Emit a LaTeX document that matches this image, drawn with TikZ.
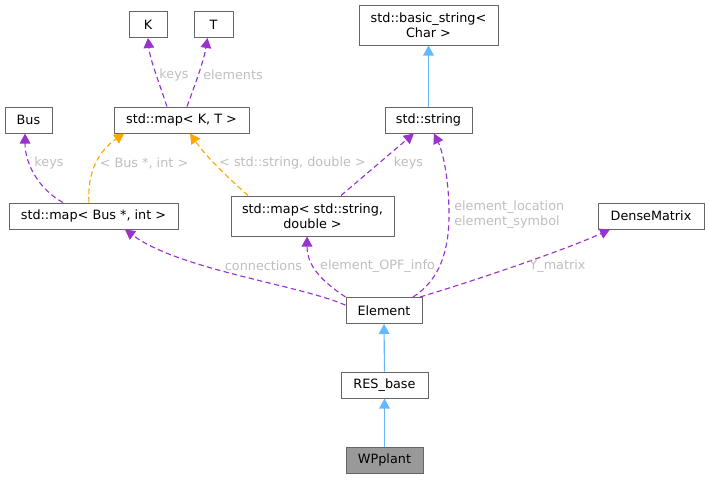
\documentclass[tikz,border=0pt]{standalone}
\usepackage{fontspec}
\setmainfont{DejaVu Sans}
\usetikzlibrary{arrows.meta}
\definecolor{edgepurple}{RGB}{154,50,205}
\definecolor{edgeorange}{RGB}{255,165,0}
\definecolor{edgeblue}{RGB}{99,184,255}
\definecolor{boxgray}{RGB}{102,102,102}
\definecolor{labelgray}{RGB}{190,190,190}
\definecolor{wpgray}{RGB}{153,153,153}

\begin{document}
\begin{tikzpicture}[x=0.75pt, y=-0.75pt, >={Triangle[length=7.5pt,width=8pt]},
    cls/.style={draw=boxgray, line width=0.75pt, fill=white, inner sep=0pt, minimum height=19.5pt,
        font=\fontsize{9.6}{11.25}\selectfont, align=center},
    member/.style={->, edgepurple, line width=0.85pt, dash pattern=on 4pt off 2.5pt},
    tmpl/.style={->, edgeorange, line width=0.85pt, dash pattern=on 4pt off 2.5pt},
    inherit/.style={->, edgeblue, line width=0.85pt},
    lbl/.style={text=labelgray, inner sep=0pt, font=\fontsize{9.6}{11.25}\selectfont}]
    \useasboundingbox (0,0) rectangle (709,479);
    \node[cls, minimum width=28.5pt] (K) at (148,24.5) {K};
    \node[cls, minimum width=29.25pt] (T) at (213.5,24.5) {T};
    \node[cls, minimum width=104.25pt, minimum height=30pt] (basicstr) at (428.5,25) {std::basic\_string<\\Char >};
    \node[cls, minimum width=35.25pt] (Bus) at (28.5,120) {Bus};
    \node[cls, minimum width=101.25pt] (mapKT) at (181.5,120) {std::map< K, T >};
    \node[cls, minimum width=65.25pt] (str) at (428.5,120) {std::string};
    \node[cls, minimum width=126.75pt] (mapBI) at (93.5,216) {std::map< Bus *, int >};
    \node[cls, minimum width=122.25pt, minimum height=30pt] (mapSD) at (312.5,216) {std::map< std::string,\\double >};
    \node[cls, minimum width=79.5pt] (dense) at (651,216) {DenseMatrix};
    \node[cls, minimum width=57pt] (elem) at (384,310.5) {Element};
    \node[cls, minimum width=65.25pt] (resbase) at (384.5,385) {RES\_base};
    \node[cls, minimum width=57.75pt, fill=wpgray] (wp) at (384.5,460) {WPplant};

    \draw[member] ([xshift=-10.9pt]mapKT.north) .. controls (160,85) and (150,60) .. (K.south);
    \draw[member] ([xshift=4.1pt]mapKT.north) .. controls (195,85) and (204,60) .. ([xshift=-4.5pt]T.south);
    \draw[member] ([xshift=-22.9pt]mapBI.north) .. controls (40,190) and (25,165) .. ([xshift=-2.6pt]Bus.south);
    \draw[tmpl] ([xshift=-3.4pt]mapBI.north) .. controls (87,170) and (100,150) .. ([xshift=-43pt]mapKT.south);
    \draw[tmpl] ([xshift=-48.4pt]mapSD.north) .. controls (225,175) and (205,155) .. ([xshift=6.4pt]mapKT.south);
    \draw[member] ([xshift=21.4pt]mapSD.north) -- ([xshift=-11pt]str.south);
    \draw[inherit] (str.north) -- (basicstr.south);
    \draw[member] ([yshift=4pt]elem.west) .. controls (300,285) and (180,270) .. ([xshift=23.6pt]mapBI.south);
    \draw[member] (elem.north west) .. controls (320,280) and (307,265) .. ([xshift=-4.1pt]mapSD.south);
    \draw[member] ([xshift=21.75pt]elem.north) .. controls (440,280) and (449,250) .. (449,215)
        .. controls (449,175) and (442,150) .. ([xshift=4.1pt]str.south);
    \draw[member] ([xshift=27pt]elem.north) .. controls (470,282) and (560,252) .. ([xshift=-30.75pt]dense.south);
    \draw[inherit] (resbase.north) -- (elem.south);
    \draw[inherit] (wp.north) -- (resbase.south);

    \node[lbl] (lkeysK) at (174,75) {keys};
    \node[lbl] (lelems) at (233,75) {elements};
    \node[lbl] (lkeysBus) at (49,163) {keys};
    \node[lbl] (lbusint) at (144,163) {< Bus *, int >};
    \node[lbl] (lstrdbl) at (292.5,163) {< std::string, double >};
    \node[lbl] (lkeysstr) at (408.5,163) {keys};
    \node[lbl, anchor=west, align=left] (lelemloc) at (454,215) {element\_location\\element\_symbol};
    \node[lbl] (lconn) at (263.5,266) {connections};
    \node[lbl] (lopf) at (377.5,266) {element\_OPF\_info};
    \node[lbl] (lymat) at (557.5,266) {Y\_matrix};
\end{tikzpicture}
\end{document}
